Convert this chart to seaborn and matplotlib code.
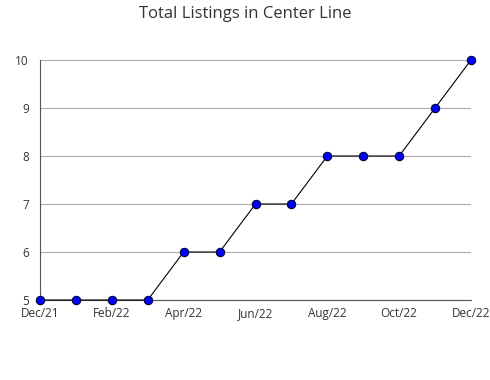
import matplotlib
matplotlib.use("Agg")
import matplotlib.pyplot as plt
import seaborn as sns
import pandas as pd
import numpy as np
from matplotlib.ticker import MultipleLocator

months = ["Dec/21", "Jan/22", "Feb/22", "Mar/22", "Apr/22", "May/22", "Jun/22",
          "Jul/22", "Aug/22", "Sep/22", "Oct/22", "Nov/22", "Dec/22"]
listings = [5, 5, 5, 5, 6, 6, 7, 7, 8, 8, 8, 9, 10]
tick_labels = ["Dec/21", "Feb/22", "Apr/22", "Jun/22", "Aug/22", "Oct/22", "Dec/22"]

df = pd.DataFrame({"idx": np.arange(len(months)), "listings": listings})

sns.set_style("white")
plt.rcParams["font.family"] = ["Open Sans", "DejaVu Sans"]

fig = plt.figure(figsize=(4.9, 3.8), dpi=100)
ax = fig.add_axes([40/490, 1-300/380, 431/490, 240/380])

sns.lineplot(data=df, x="idx", y="listings", ax=ax, color="black", linewidth=0.8,
             marker="o", markersize=6, markerfacecolor="#0000ff",
             markeredgecolor="#000033", markeredgewidth=0.8, clip_on=False, zorder=3)

ax.set_xlim(0, len(months) - 1)
ax.set_ylim(5, 10)
ax.set_xticks(range(0, len(months), 2))
ax.set_xticklabels(tick_labels)
ax.xaxis.set_minor_locator(MultipleLocator(1))
ax.yaxis.set_major_locator(MultipleLocator(1))
ax.yaxis.set_minor_locator(MultipleLocator(0.5))
ax.grid(axis="y", which="major", color="#aaaaaa", linewidth=0.8)
ax.set_axisbelow(True)

for s in ["top", "right"]:
    ax.spines[s].set_visible(False)
for s in ["left", "bottom"]:
    ax.spines[s].set_color("#555555")
    ax.spines[s].set_linewidth(0.8)

ax.tick_params(axis="both", which="both", direction="in", color="#555555", width=0.8,
               labelsize=8.5, labelcolor="#333333")
ax.tick_params(axis="both", which="major", length=5)
ax.tick_params(axis="both", which="minor", length=4)
ax.tick_params(axis="x", pad=5)
ax.tick_params(axis="y", pad=8)
ax.set_xlabel("")
ax.set_ylabel("")

fig.suptitle("Total Listings in Center Line", y=1-14/380, va="center", fontsize=12, color="#333333")

fig.savefig("out.png", dpi=100)
